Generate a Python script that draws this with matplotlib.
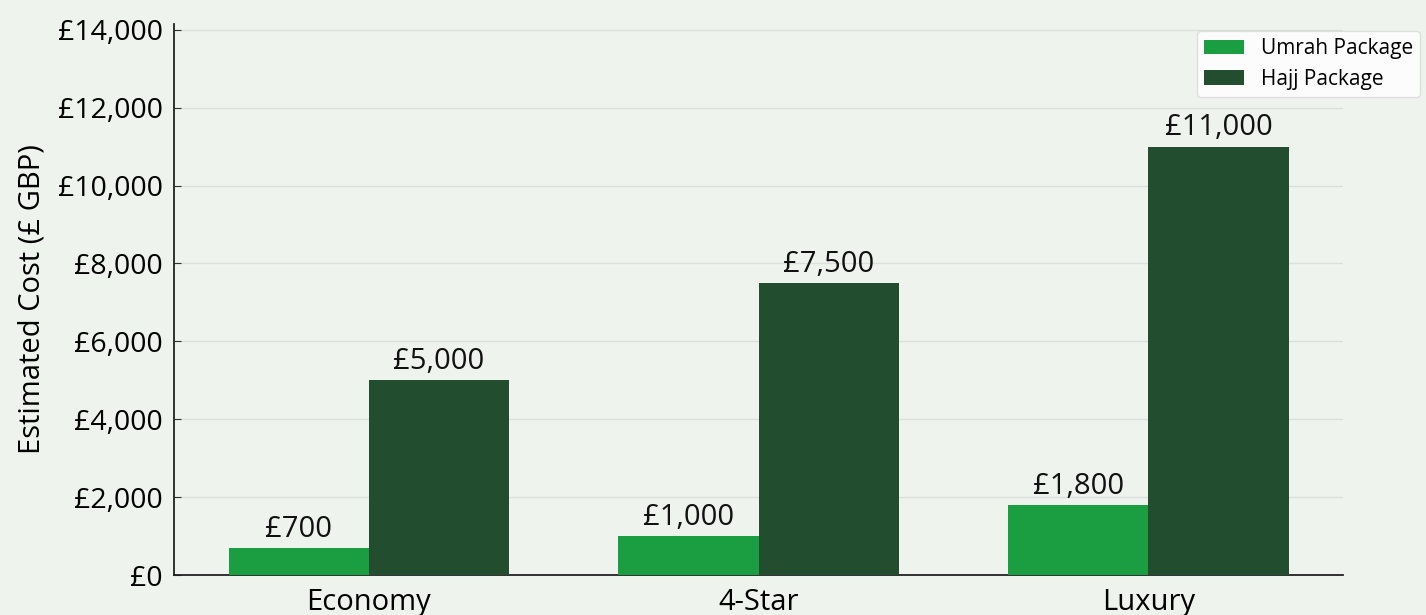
import numpy as np
import matplotlib

matplotlib.use("Agg")
import matplotlib.pyplot as plt
from matplotlib.ticker import FuncFormatter

# Package tiers and estimated costs (GBP)
tiers = ["Economy", "4-Star", "Luxury"]
umrah_cost = [700, 1000, 1800]
hajj_cost = [5000, 7500, 11000]
series_names = ["Umrah Package", "Hajj Package"]

UMRAH_COLOR = "#1b9e42"
HAJJ_COLOR = "#234d2f"
BG = "#eff3ee"

plt.rcParams["font.family"] = ["Open Sans", "DejaVu Sans"]

fig = plt.figure(figsize=(14.26, 6.15), dpi=100, facecolor=BG)
ax = fig.add_axes([0.122, 0.065, 0.82, 0.896], facecolor=BG)

x = np.arange(len(tiers))
width = 0.36
b1 = ax.bar(x - width / 2, umrah_cost, width, color=UMRAH_COLOR, label=series_names[0], zorder=3)
b2 = ax.bar(x + width / 2, hajj_cost, width, color=HAJJ_COLOR, label=series_names[1], zorder=3)

fmt = lambda v: f"£{v:,.0f}"
for bars in (b1, b2):
    for bar in bars:
        h = bar.get_height()
        ax.annotate(fmt(h), xy=(bar.get_x() + bar.get_width() / 2, h),
                    xytext=(0, 3), textcoords="offset points",
                    ha="center", va="bottom", fontsize=21, color="#111111")

ax.set_xlim(-0.5, 2.5)
ax.set_ylim(0, 14150)
ax.set_yticks(np.arange(0, 14001, 2000))
ax.yaxis.set_major_formatter(FuncFormatter(lambda v, p: fmt(v)))
ax.set_xticks(x)
ax.set_xticklabels(tiers)
ax.tick_params(axis="y", direction="in", length=5, labelsize=20.5, pad=8, color="#333333")
ax.tick_params(axis="x", length=0, labelsize=21, pad=9)
ax.set_ylabel("Estimated Cost (£ GBP)", fontsize=21, labelpad=8)

ax.grid(axis="y", color="#dcdfdb", linewidth=1.0, zorder=0)
ax.spines["top"].set_visible(False)
ax.spines["right"].set_visible(False)
for s in ("left", "bottom"):
    ax.spines[s].set_color("#222222")
    ax.spines[s].set_linewidth(1.3)

leg = ax.legend(loc="upper left", bbox_to_anchor=(1197 / 1426, 1 - 31 / 615),
                bbox_transform=fig.transFigure, fontsize=15, frameon=True,
                handlelength=1.9, handleheight=0.7, borderpad=0.35, labelspacing=0.45,
                handletextpad=0.8, borderaxespad=0)
leg.get_frame().set_facecolor("white")
leg.get_frame().set_edgecolor("#d8d8d8")

fig.savefig("out.png", dpi=100, facecolor=BG)
